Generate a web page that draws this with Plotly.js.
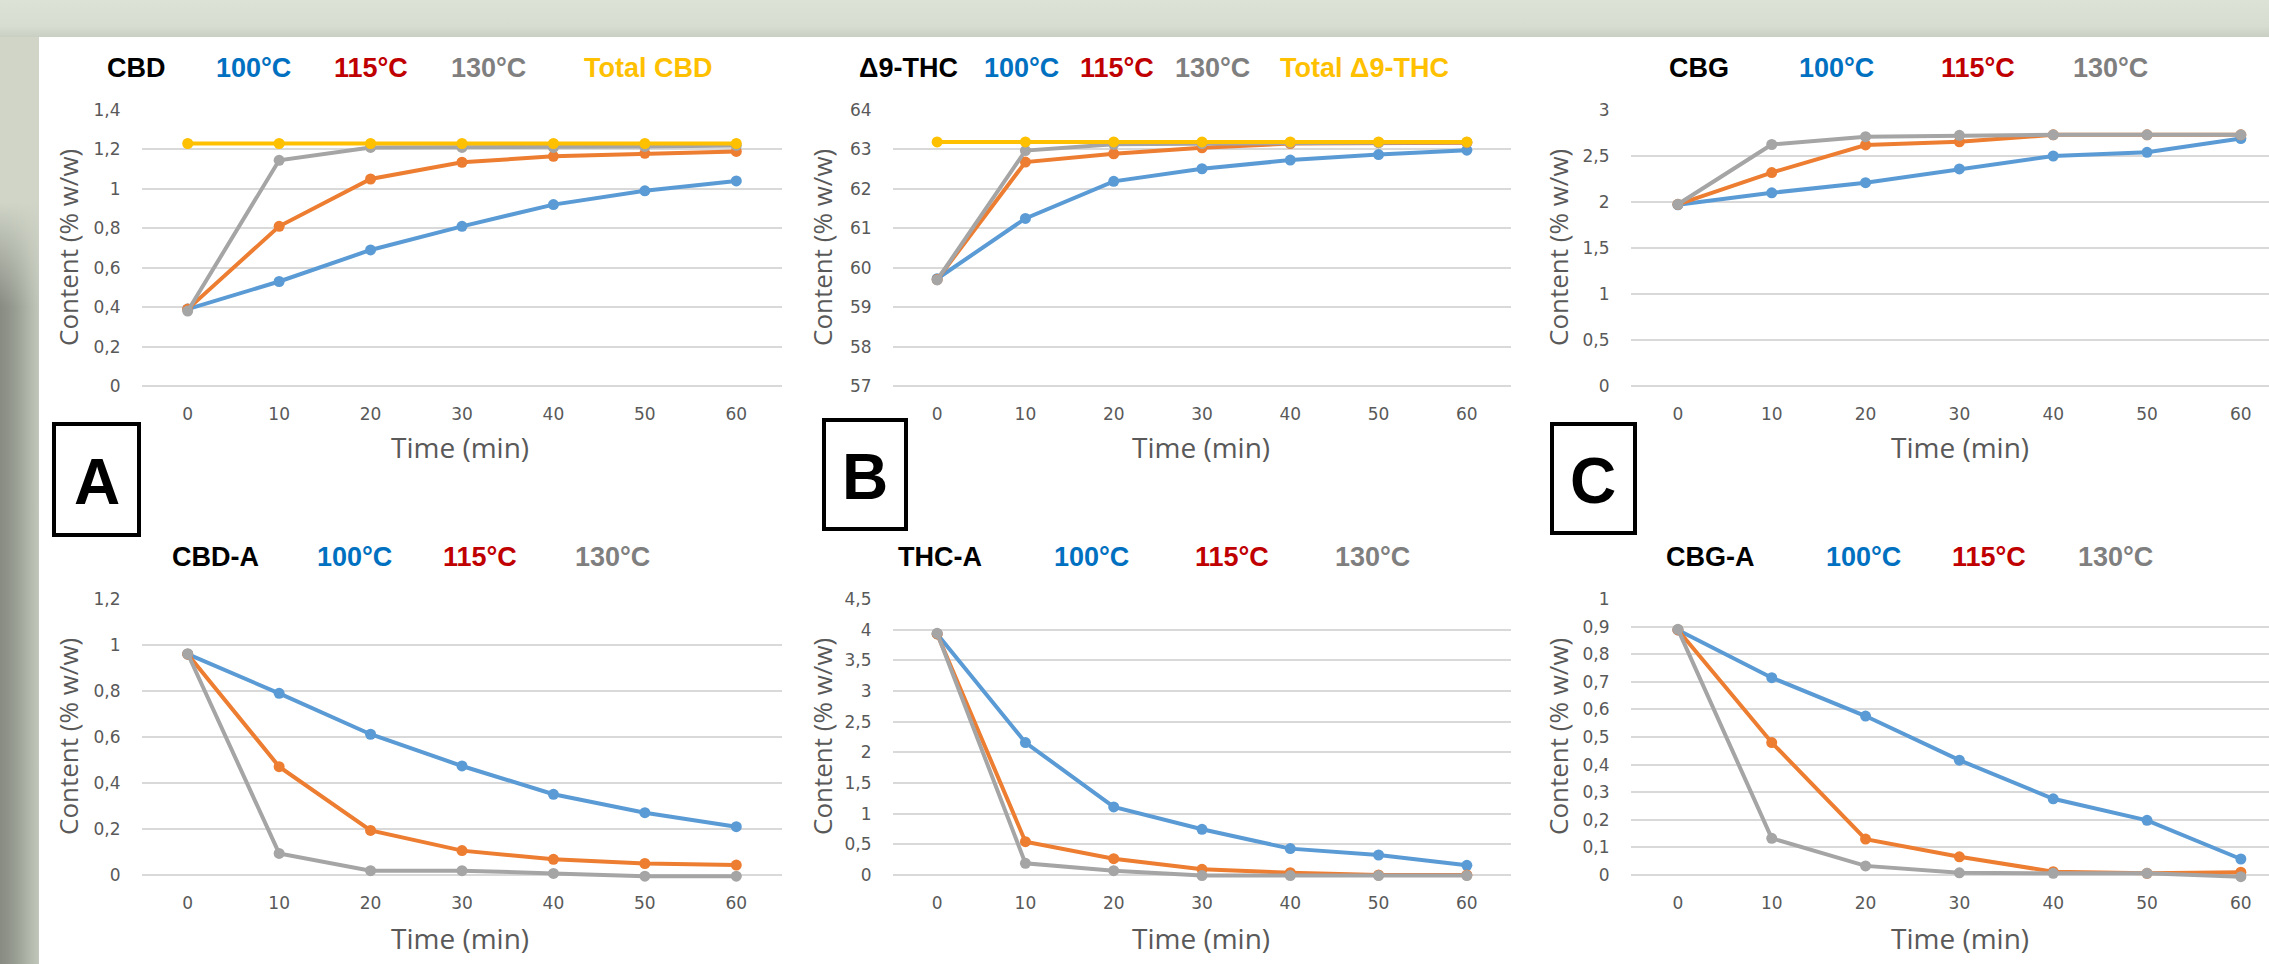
<!DOCTYPE html>
<html>
<head>
<meta charset="utf-8">
<script src="https://cdn.plot.ly/plotly-3.0.1.min.js"></script>
<style>
  html, body { margin: 0; padding: 0; background: #ffffff; }
  #wrap { position: relative; width: 2269px; height: 964px; overflow: hidden; }
  #topband { position: absolute; left: 0; top: 0; width: 2269px; height: 37px;
    background: linear-gradient(to bottom, #DDE2D7 0%, #D8DDD1 70%, #CACFC3 100%); }
  #leftband { position: absolute; left: 0; top: 37px; width: 39px; height: 927px;
    background:
      linear-gradient(to bottom, rgba(208,213,200,1) 0px, rgba(208,213,200,1) 165px, rgba(208,213,200,0) 270px),
      linear-gradient(to right, #878B82 0px, #8F938A 8px, #9A9F94 16px, #A8ADA2 24px, #B5BAAE 31px, #C1C7BA 39px); }
  #panel { position: absolute; left: 39px; top: 37px; width: 2230px; height: 927px; background: #ffffff; }
  #chart { position: absolute; left: 0; top: 0; width: 2269px; height: 964px; }
</style>
</head>
<body>
<div id="wrap">
  <div id="topband"></div>
  <div id="leftband"></div>
  <div id="panel"></div>
  <div id="chart"></div>
</div>
<script>
// ---------------- DATA ----------------
const timeMin = [0, 10, 20, 30, 40, 50, 60];
const timeLabels = ['0', '10', '20', '30', '40', '50', '60'];
const tempLabels = ['100°C', '115°C', '130°C'];

// A: CBD
const cbd100   = [0.39, 0.53, 0.69, 0.81, 0.92, 0.99, 1.04];
const cbd115   = [0.39, 0.81, 1.05, 1.135, 1.165, 1.18, 1.19];
const cbd130   = [0.38, 1.145, 1.21, 1.21, 1.21, 1.215, 1.22];
const cbdTotal = [1.23, 1.23, 1.23, 1.23, 1.23, 1.23, 1.23];

// B: Δ9-THC
const thc100   = [59.72, 61.25, 62.19, 62.51, 62.73, 62.87, 62.98];
const thc115   = [59.70, 62.68, 62.89, 63.04, 63.15, 63.17, 63.17];
const thc130   = [59.69, 62.97, 63.13, 63.15, 63.17, 63.17, 63.18];
const thcTotal = [63.19, 63.19, 63.19, 63.19, 63.19, 63.19, 63.19];

// C: CBG
const cbg100 = [1.97, 2.10, 2.21, 2.36, 2.50, 2.54, 2.69];
const cbg115 = [1.975, 2.32, 2.62, 2.655, 2.73, 2.73, 2.73];
const cbg130 = [1.975, 2.625, 2.71, 2.725, 2.73, 2.73, 2.73];

// D: CBD-A
const cbda100 = [0.96, 0.79, 0.612, 0.474, 0.351, 0.271, 0.21];
const cbda115 = [0.96, 0.471, 0.194, 0.106, 0.068, 0.05, 0.043];
const cbda130 = [0.962, 0.094, 0.019, 0.019, 0.007, -0.005, -0.005];

// E: THC-A
const thca100 = [3.93, 2.16, 1.11, 0.745, 0.43, 0.326, 0.158];
const thca115 = [3.93, 0.543, 0.266, 0.092, 0.038, 0.0, 0.0];
const thca130 = [3.94, 0.19, 0.07, -0.01, -0.01, -0.01, -0.01];

// F: CBG-A
const cbga100 = [0.888, 0.715, 0.576, 0.416, 0.276, 0.198, 0.058];
const cbga115 = [0.888, 0.48, 0.13, 0.066, 0.012, 0.006, 0.01];
const cbga130 = [0.89, 0.133, 0.033, 0.008, 0.006, 0.006, -0.006];

// Y tick values / labels
const yTicksCBD  = [0, 0.2, 0.4, 0.6, 0.8, 1, 1.2, 1.4];
const yLabelsCBD = ['0', '0,2', '0,4', '0,6', '0,8', '1', '1,2', '1,4'];
const yTicksTHC  = [57, 58, 59, 60, 61, 62, 63, 64];
const yLabelsTHC = ['57', '58', '59', '60', '61', '62', '63', '64'];
const yTicksCBG  = [0, 0.5, 1, 1.5, 2, 2.5, 3];
const yLabelsCBG = ['0', '0,5', '1', '1,5', '2', '2,5', '3'];
const yTicksCBDA  = [0, 0.2, 0.4, 0.6, 0.8, 1, 1.2];
const yLabelsCBDA = ['0', '0,2', '0,4', '0,6', '0,8', '1', '1,2'];
const yTicksTHCA  = [0, 0.5, 1, 1.5, 2, 2.5, 3, 3.5, 4, 4.5];
const yLabelsTHCA = ['0', '0,5', '1', '1,5', '2', '2,5', '3', '3,5', '4', '4,5'];
const yTicksCBGA  = [0, 0.1, 0.2, 0.3, 0.4, 0.5, 0.6, 0.7, 0.8, 0.9, 1];
const yLabelsCBGA = ['0', '0,1', '0,2', '0,3', '0,4', '0,5', '0,6', '0,7', '0,8', '0,9', '1'];

const titleCBD  = ['CBD', '100°C', '115°C', '130°C', 'Total CBD'];
const titleTHC  = ['Δ9-THC', '100°C', '115°C', '130°C', 'Total Δ9-THC'];
const titleCBG  = ['CBG', '100°C', '115°C', '130°C'];
const titleCBDA = ['CBD-A', '100°C', '115°C', '130°C'];
const titleTHCA = ['THC-A', '100°C', '115°C', '130°C'];
const titleCBGA = ['CBG-A', '100°C', '115°C', '130°C'];

const panelLetters = ['A', 'B', 'C'];
const xAxisTitle = 'Time (min)';
const yAxisTitle = 'Content (% w/w)';

// ---------------- STYLE / LAYOUT ----------------
const W = 2269, H = 964;
const px = v => v / W;
const py = v => 1 - v / H;

const seriesColors = ['#5B9BD5', '#ED7D31', '#A5A5A5', '#FFC000'];
const titleColors  = ['#000000', '#0070C0', '#C00000', '#7F7F7F', '#FFC000'];

const cols = [
  { x0: 142, x1: 782, xr: [-5, 65], ytitleX: 68,   xtitleX: 460 },
  { x0: 893, x1: 1511, xr: [-5, 65], ytitleX: 822,  xtitleX: 1201 },
  { x0: 1631, x1: 2269, xr: [-5, 63], ytitleX: 1558, xtitleX: 1960 }
];
const rows = [
  { y0: 110, y1: 386, titleY: 68,  xtitleY: 447, ytitleY: 248 },
  { y0: 599, y1: 875, titleY: 557, xtitleY: 938, ytitleY: 737 }
];

const panels = [
  { r: 0, c: 0, series: [cbd100, cbd115, cbd130, cbdTotal], range: [0, 1.4], tv: yTicksCBD, tt: yLabelsCBD,
    words: titleCBD, wordX: [136.5, 253, 371, 488, 648] },
  { r: 0, c: 1, series: [thc100, thc115, thc130, thcTotal], range: [57, 64], tv: yTicksTHC, tt: yLabelsTHC,
    words: titleTHC, wordX: [908, 1021.5, 1117, 1212, 1364] },
  { r: 0, c: 2, series: [cbg100, cbg115, cbg130], range: [0, 3], tv: yTicksCBG, tt: yLabelsCBG,
    words: titleCBG, wordX: [1698.5, 1836.5, 1977.5, 2110.5] },
  { r: 1, c: 0, series: [cbda100, cbda115, cbda130], range: [0, 1.2], tv: yTicksCBDA, tt: yLabelsCBDA,
    words: titleCBDA, wordX: [215.5, 354, 479.5, 612.5] },
  { r: 1, c: 1, series: [thca100, thca115, thca130], range: [0, 4.5], tv: yTicksTHCA, tt: yLabelsTHCA,
    words: titleTHCA, wordX: [940, 1091.5, 1232, 1372.5] },
  { r: 1, c: 2, series: [cbga100, cbga115, cbga130], range: [0, 1], tv: yTicksCBGA, tt: yLabelsCBGA,
    words: titleCBGA, wordX: [1710.5, 1863.5, 1989.5, 2115.5] }
];

const seriesNames = tempLabels.concat(['Total']);
const tickFont = { family: 'DejaVu Sans, Open Sans, sans-serif', size: 17, color: '#595959' };
const axTitleFont = { family: 'Open Sans, DejaVu Sans, sans-serif', color: '#595959' };
const titleFont = { family: 'Liberation Sans, Arial, sans-serif', size: 27 };

const traces = [];
const layout = {
  width: W, height: H,
  margin: { l: 0, r: 0, t: 0, b: 0, pad: 0 },
  paper_bgcolor: 'rgba(0,0,0,0)',
  plot_bgcolor: 'rgba(0,0,0,0)',
  showlegend: false,
  separators: ',.',
  annotations: [],
  shapes: []
};

panels.forEach((p, i) => {
  const n = i + 1;
  const xk = n === 1 ? 'x' : 'x' + n;
  const yk = n === 1 ? 'y' : 'y' + n;
  const col = cols[p.c], row = rows[p.r];
  const span = p.range[1] - p.range[0];
  // extend range slightly so values a hair below the bottom gridline stay visible,
  // while keeping the gridlines at the same pixel positions (domain grows to match)
  const ppu = (row.y1 - row.y0) / span;
  const dataMin = Math.min.apply(null, p.series.map(s => Math.min.apply(null, s)));
  const lo = Math.min(p.range[0], dataMin) - span * 0.01;
  const hi = p.range[1] + span * 0.001;
  const botPx = row.y1 + (p.range[0] - lo) * ppu;
  const topPx = row.y0 - (hi - p.range[1]) * ppu;
  layout['xaxis' + (n === 1 ? '' : n)] = {
    domain: [px(col.x0), px(col.x1)],
    range: col.xr,
    anchor: yk,
    tickmode: 'array', tickvals: timeMin, ticktext: timeLabels,
    showgrid: false, zeroline: false, showline: false,
    ticks: 'outside', ticklen: 13 - (botPx - row.y1), tickcolor: 'rgba(0,0,0,0)',
    tickfont: tickFont, fixedrange: true
  };
  layout['yaxis' + (n === 1 ? '' : n)] = {
    domain: [py(botPx), py(topPx)],
    range: [lo, hi],
    anchor: xk,
    tickmode: 'array', tickvals: p.tv, ticktext: p.tt,
    showgrid: true, gridcolor: '#D9D9D9', gridwidth: 2,
    zeroline: false, showline: false,
    ticks: 'outside', ticklen: 17, tickcolor: 'rgba(0,0,0,0)',
    tickfont: tickFont, fixedrange: true
  };
  p.series.forEach((s, k) => {
    traces.push({
      type: 'scatter', mode: 'lines+markers',
      x: timeMin, y: s, xaxis: xk, yaxis: yk,
      name: seriesNames[k],
      line: { color: seriesColors[k], width: 4 },
      marker: { color: seriesColors[k], size: 11, symbol: 'circle' },
      cliponaxis: false, hoverinfo: 'x+y+name'
    });
  });
  // title words (coloured legend-like header)
  p.words.forEach((w, k) => {
    layout.annotations.push({
      xref: 'paper', yref: 'paper', x: px(p.wordX[k]), y: py(row.titleY),
      xanchor: 'center', yanchor: 'middle', showarrow: false,
      text: '<b>' + w + '</b>',
      font: Object.assign({}, titleFont, { color: titleColors[k] })
    });
  });
  // axis titles
  layout.annotations.push({
    xref: 'paper', yref: 'paper', x: px(col.xtitleX), y: py(row.xtitleY),
    xanchor: 'center', yanchor: 'middle', showarrow: false,
    text: xAxisTitle, font: Object.assign({}, axTitleFont, { size: 28 })
  });
  layout.annotations.push({
    xref: 'paper', yref: 'paper', x: px(col.ytitleX), y: py(row.ytitleY),
    xanchor: 'center', yanchor: 'middle', showarrow: false, textangle: -90,
    text: yAxisTitle, font: Object.assign({}, axTitleFont, { size: 26 })
  });
});

// panel letter boxes
const boxes = [
  { x0: 52, x1: 141, y0: 422, y1: 537 },
  { x0: 822, x1: 908, y0: 418, y1: 531 },
  { x0: 1550, x1: 1637, y0: 422, y1: 535 }
];
boxes.forEach((b, i) => {
  layout.shapes.push({
    type: 'rect', xref: 'paper', yref: 'paper',
    x0: px(b.x0 + 2), x1: px(b.x1 - 2), y0: py(b.y1 - 2), y1: py(b.y0 + 2),
    line: { color: '#000000', width: 4 }, fillcolor: '#ffffff'
  });
  layout.annotations.push({
    xref: 'paper', yref: 'paper', x: px((b.x0 + b.x1) / 2), y: py((b.y0 + b.y1) / 2 + 2),
    xanchor: 'center', yanchor: 'middle', showarrow: false,
    text: '<b>' + panelLetters[i] + '</b>',
    font: { family: 'Liberation Sans, Arial, sans-serif', size: 64, color: '#000000' }
  });
});

Plotly.newPlot('chart', traces, layout, { displayModeBar: false, staticPlot: true });
</script>
</body>
</html>
